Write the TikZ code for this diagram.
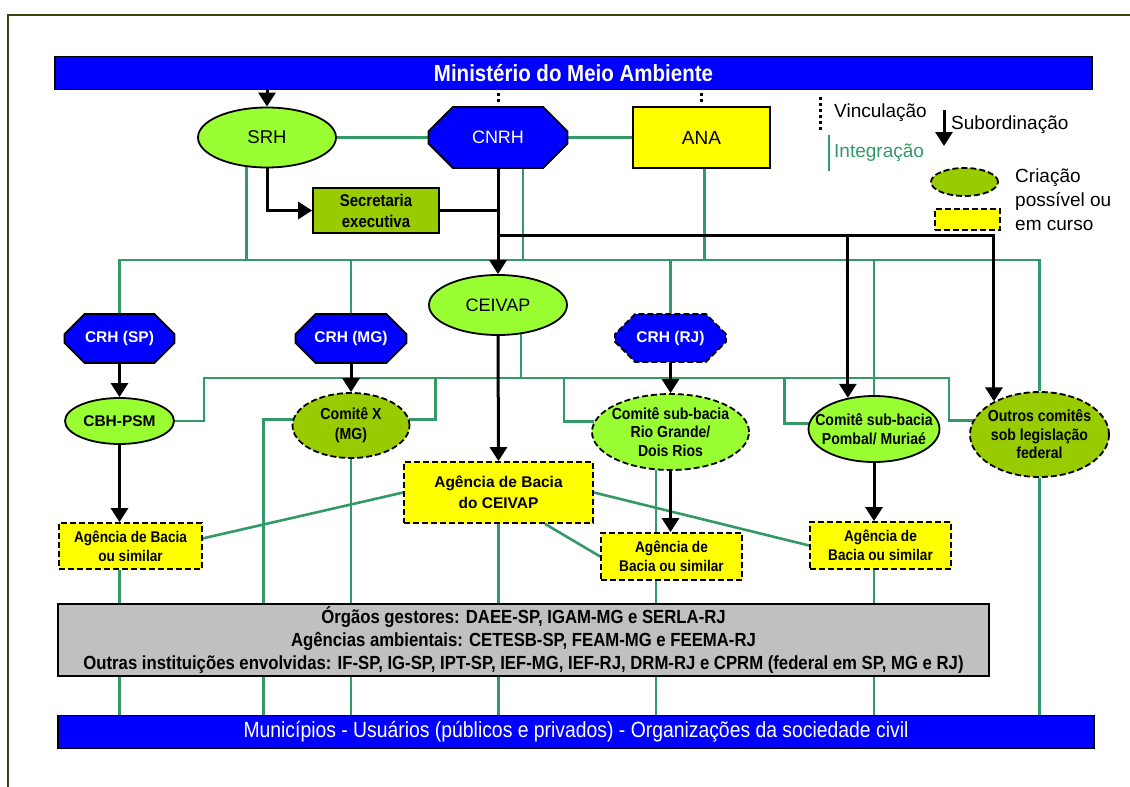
\documentclass[tikz,border=0pt]{standalone}
\usepackage{fontspec}
\setmainfont{Liberation Sans}
\newfontfamily\estreita{Liberation Sans}[FakeStretch=0.88]
\usetikzlibrary{shapes.geometric,shapes.misc,arrows.meta,backgrounds}

\definecolor{azul}{RGB}{0,0,255}
\definecolor{verdeclaro}{RGB}{153,255,51}
\definecolor{oliva}{RGB}{153,204,0}
\definecolor{amarelo}{RGB}{255,255,0}
\definecolor{cinza}{RGB}{192,192,192}
\definecolor{verdeint}{RGB}{51,153,102}
\definecolor{moldura}{RGB}{64,64,16}

\newcommand\tam[2]{\fontsize{#1}{#2}\selectfont}

\begin{document}
\begin{tikzpicture}[x=1pt,y=-1pt,
bloco/.style={
  draw,
  line width=1.8pt,
  align=center,
  inner sep=0pt
  },
faixa/.style={bloco, fill=azul, text=white, minimum height=33pt},
caixa/.style={bloco, rectangle},
elipse/.style={bloco, ellipse, fill=verdeclaro, inner xsep=-20pt, inner ysep=-4pt},
octo/.style={
  bloco,
  chamfered rectangle,
  chamfered rectangle xsep=13pt,
  chamfered rectangle ysep=13pt,
  fill=azul,
  text=white,
  font=\tam{15.5}{18}\bfseries
  },
novo/.style={dash pattern=on 6pt off 3pt},
comite/.style={font=\estreita\tam{16}{18.5}\bfseries},
agencia/.style={caixa, novo, fill=amarelo, font=\estreita\tam{15.5}{19}\bfseries},
legenda/.style={inner sep=0pt, font=\tam{19}{24}},
integ/.style={draw=verdeint, line width=2.6pt},
linha/.style={draw=black, line width=3pt},
subord/.style={linha, -{Triangle[length=14pt,width=17pt]}},
vinc/.style={line width=3pt, dash pattern=on 3pt off 3pt},
>=latex
]
\useasboundingbox (0,0) rectangle (1130,787);
\draw[moldura, line width=2pt] (8,787) -- (8,15) -- (1130,15);

\node[faixa, minimum width=1037pt, font=\estreita\tam{23.3}{24}\bfseries] (mma) at (573.5,73) {Ministério do Meio Ambiente};
\node[elipse, minimum width=138pt, minimum height=60pt, font=\tam{18.5}{22}] (srh) at (267,137.5) {SRH};
\node[octo, chamfered rectangle xsep=18pt, chamfered rectangle ysep=18pt, minimum width=139pt, minimum height=61pt, font=\tam{18}{21}] (cnrh) at (498,137.5) {CNRH};
\node[caixa, fill=amarelo, minimum width=137pt, minimum height=61pt, font=\tam{19}{22}] (ana) at (701.5,137.5) {ANA};
\node[caixa, fill=oliva, minimum width=126pt, minimum height=45pt, font=\estreita\tam{17}{21}\bfseries] (sec) at (376,210.5) {Secretaria\\executiva};
\node[elipse, minimum width=138pt, minimum height=60pt, font=\tam{18}{21}] (ceivap) at (498,305) {CEIVAP};

\node[octo, minimum width=110pt, minimum height=49pt] (crhsp) at (119.5,338.5) {CRH (SP)};
\node[octo, minimum width=111pt, minimum height=49pt] (crhmg) at (351,338.5) {CRH (MG)};
\node[octo, novo, minimum width=111pt, minimum height=48pt] (crhrj) at (670.5,338) {CRH (RJ)};

\node[elipse, minimum width=109pt, minimum height=46pt, font=\tam{15.5}{18}\bfseries] (cbh) at (119.5,421) {CBH-PSM};
\node[elipse, novo, fill=oliva, minimum width=117pt, minimum height=65pt, font=\estreita\tam{16}{20}\bfseries] (comx) at (351,425.5) {Comitê X\\(MG)};
\node[elipse, novo, comite, minimum width=157pt, minimum height=76pt] (riogr) at (670.5,432) {Comitê sub-bacia\\Rio Grande/\\Dois Rios};
\node[elipse, comite, minimum width=131pt, minimum height=66pt] (pombal) at (874,429) {Comitê sub-bacia\\Pombal/ Muriaé};
\node[elipse, novo, fill=oliva, comite, minimum width=139pt, minimum height=85pt] (outros) at (1039.5,434.5) {Outros comitês\\sob legislação\\federal};

\node[agencia, minimum width=189pt, minimum height=61pt, font=\tam{15.5}{21}\bfseries] (agceivap) at (498.5,492.5) {Agência de Bacia\\do CEIVAP};
\node[agencia, minimum width=143pt, minimum height=46pt] (agsp) at (130.5,546) {Agência de Bacia\\ou similar};
\node[agencia, minimum width=141pt, minimum height=47pt] (agrj) at (671.5,556.5) {Agência de\\Bacia ou similar};
\node[agencia, minimum width=141pt, minimum height=47pt] (agpm) at (880.5,545.5) {Agência de\\Bacia ou similar};

\node[caixa, fill=cinza, minimum width=931pt, minimum height=72pt, font=\estreita\tam{19}{23}\bfseries] (gestores) at (523.5,640) {Órgãos gestores: DAEE-SP, IGAM-MG e SERLA-RJ\\Agências ambientais: CETESB-SP, FEAM-MG e FEEMA-RJ\\Outras instituições envolvidas: IF-SP, IG-SP, IPT-SP, IEF-MG, IEF-RJ, DRM-RJ e CPRM (federal em SP, MG e RJ)};
\node[faixa, minimum width=1036pt, font=\estreita\tam{22}{22}] (munic) at (576,732) {Municípios - Usuários (públicos e privados) - Organizações da sociedade civil};

\coordinate (vinca) at (820,97);
\coordinate (vincb) at (820,130);
\draw[vinc] (vinca) -- (vincb);
\node[legenda, anchor=west] (tvinc) at (834,113) {Vinculação};
\coordinate (suba) at (944,110);
\coordinate (subb) at (944,146);
\draw[subord] (suba) -- (subb);
\node[legenda, anchor=west] (tsub) at (951,125) {Subordinação};
\coordinate (inta) at (829,135);
\coordinate (intb) at (829,171);
\draw[integ] (inta) -- (intb);
\node[legenda, anchor=west, text=verdeint] (tint) at (834,153) {Integração};
\node[elipse, novo, fill=oliva, minimum width=67pt, minimum height=28pt] (legel) at (964.5,182) {};
\node[caixa, novo, fill=amarelo, minimum width=65pt, minimum height=21pt] (legret) at (967.5,219.5) {};
\node[legenda, anchor=north west, align=left] (tcria) at (1015,169) {Criação\\possível ou\\em curso};

\begin{pgfonlayer}{background}
\draw[integ] (srh.east) -- (cnrh.west);
\draw[integ] (cnrh.east) -- (ana.west);
\coordinate (bus) at (0,260);
\draw[integ] (crhsp.north) -- (crhsp.north |- bus) -- (outros.north |- bus) -- (outros.north);
\foreach \n in {crhmg,crhrj,pombal}
  \draw[integ] (\n.north) -- (\n.north |- bus);
\draw[integ] (srh.235) -- (srh.235 |- bus);
\draw[integ] ([xshift=25pt]cnrh.south) -- ([xshift=25pt]cnrh.south |- bus);
\draw[integ] ([xshift=3pt]ana.south) -- ([xshift=3pt]ana.south |- bus);

\coordinate (bus2) at (204,378);
\coordinate (bus2e) at (949,378);
\draw[integ] (cbh.east) -| (bus2) -- (bus2e) |- (outros.168);
\draw[integ] (comx.6) -- ++(26,0) |- (bus2);
\draw[integ] (riogr.172) -- ++(-30,0) |- (bus2);
\draw[integ] (pombal.175) -- ++(-24,0) |- (bus2);
\draw[integ] (ceivap.-52) -- (ceivap.-52 |- bus2);

\draw[integ] (comx.174) -- ++(-29,0) coordinate (cxo) -- (cxo |- munic.north);
\foreach \n in {comx,agceivap,outros}
  \draw[integ] (\n.south) -- (\n.south |- munic.north);
\draw[integ] (agsp.south -| cbh.south) -- (cbh.south |- munic.north);
\draw[integ] (riogr.249) -- (riogr.249 |- munic.north);
\draw[integ] (agpm.south -| pombal.south) -- (pombal.south |- munic.north);

\draw[integ] (agsp.6) -- (agceivap.west);
\draw[integ] (agceivap.-34) -- (agrj.west);
\draw[integ] (agceivap.east) -- (agpm.west);
\end{pgfonlayer}

\draw[vinc, shorten <=3pt, shorten >=4pt] (mma.south -| cnrh.north) -- (cnrh.north);
\draw[vinc, shorten <=3pt, shorten >=4pt] (mma.south -| ana.north) -- (ana.north);

\draw[subord] (mma.south -| srh.north) -- (srh.north);
\draw[subord] (srh.south) |- (sec.west);
\draw[linha] (sec.east) -- (sec.east -| cnrh.south);
\draw[subord] (cnrh.south) -- (ceivap.north);
\coordinate (ramo) at (498,235);
\draw[subord] (ramo) -| (outros.144);
\draw[subord] (ramo -| pombal.130) -- (pombal.130);
\foreach \a/\b in {crhsp/cbh,crhmg/comx,crhrj/riogr}
  \draw[subord] (\a.south) -- (\b.north);
\draw[subord] (cbh.south) -- (cbh.south |- agsp.north);
\draw[subord] (ceivap.south) -- (agceivap.north);
\draw[subord] (riogr.south) -- (riogr.south |- agrj.north);
\draw[subord] (pombal.south) -- (pombal.south |- agpm.north);

\end{tikzpicture}
\end{document}
